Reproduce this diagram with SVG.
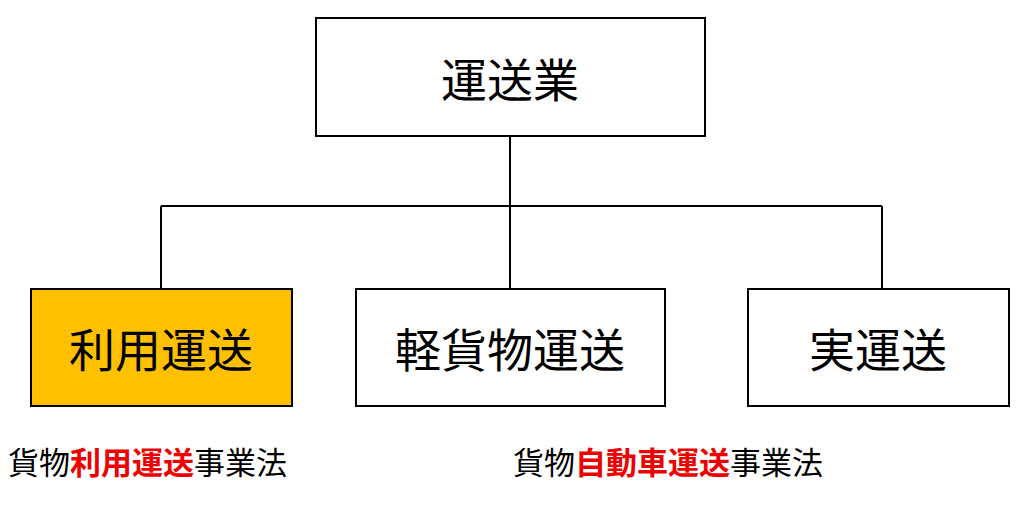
<svg xmlns="http://www.w3.org/2000/svg" width="1024" height="505" viewBox="0 0 1024 505">
<style>
.b{stroke:#000;stroke-width:2}
.t{font-family:"Noto Sans CJK JP",sans-serif;text-anchor:middle;fill:#000}
.l{font-family:"Noto Sans CJK JP",sans-serif;font-size:31px;fill:#000}
.r{fill:#e00;font-weight:bold}
</style>
<rect width="1024" height="505" fill="#fff"/>
<g id="connectors" fill="none" stroke="#000" stroke-width="2">
<path d="M510 136V206M161 206H882M161 206V289M510 206V289M882 206V289"/>
</g>
<g id="n-top"><rect class="b" x="316" y="18" width="389" height="118" fill="#fff"/><text class="t" x="510" y="97" font-size="46">運送業</text></g>
<g id="n-riyou"><rect class="b" x="31" y="289" width="261" height="117" fill="#FFC000"/><text class="t" x="161" y="367" font-size="46">利用運送</text></g>
<g id="n-kei"><rect class="b" x="356" y="289" width="309" height="117" fill="#fff"/><text class="t" x="510" y="367" font-size="46">軽貨物運送</text></g>
<g id="n-jitsu"><rect class="b" x="748" y="289" width="261" height="117" fill="#fff"/><text class="t" x="878" y="367" font-size="46">実運送</text></g>
<text class="l" x="8" y="474">貨物<tspan class="r">利用運送</tspan>事業法</text>
<text class="l" x="513" y="474">貨物<tspan class="r">自動車運送</tspan>事業法</text>
</svg>
